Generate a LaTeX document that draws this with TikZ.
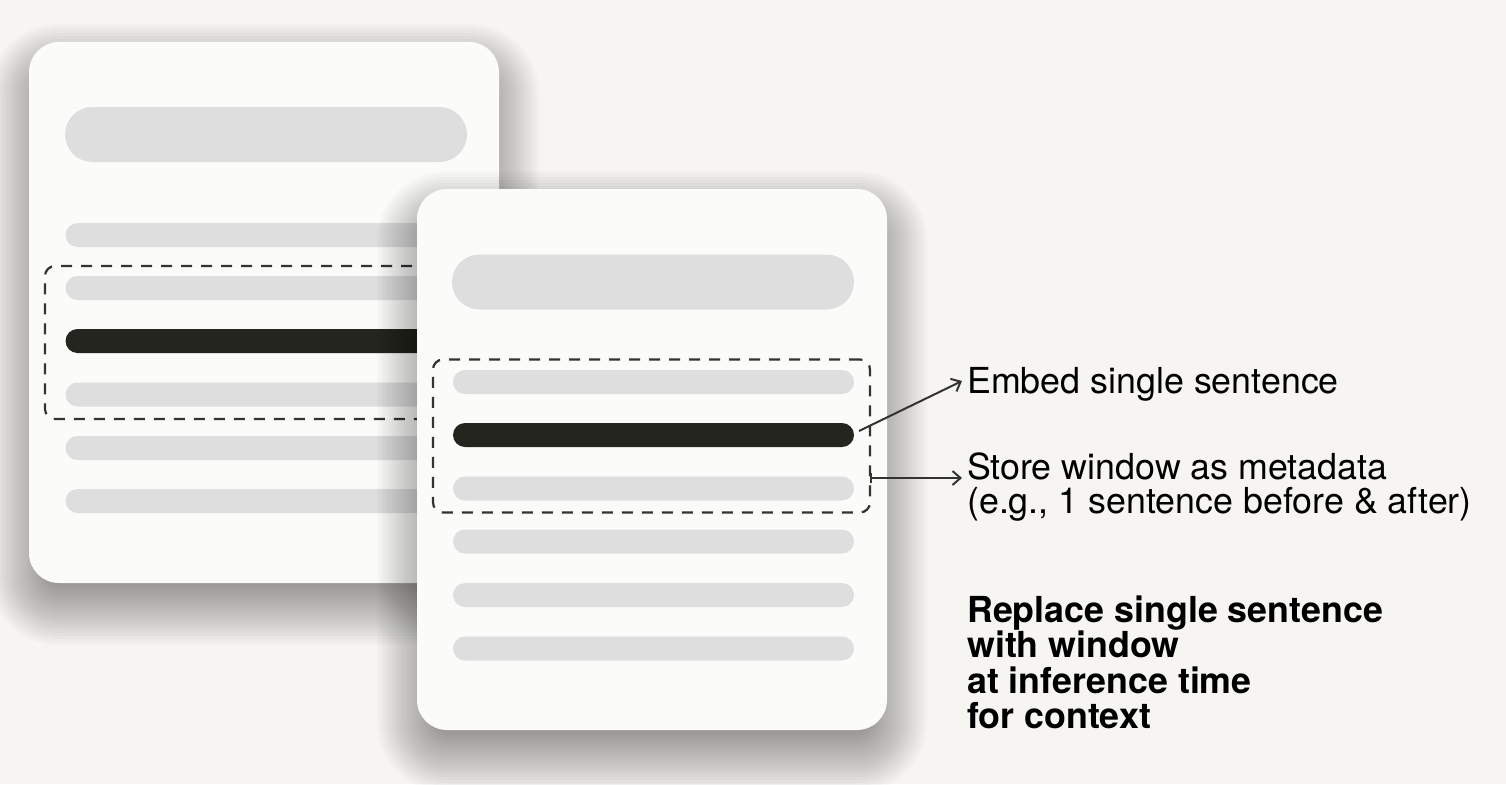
\documentclass[tikz,border=0pt]{standalone}
\usepackage{fontspec}
\setmainfont{TeX Gyre Heros}
\usetikzlibrary{arrows.meta,calc}
\definecolor{bg}{HTML}{F6F5F2}
\definecolor{cardfill}{HTML}{FBFBF9}
\definecolor{pill}{HTML}{DEDEDE}
\definecolor{ink}{HTML}{25251F}
\definecolor{wire}{HTML}{333333}
% soft drop shadow under a 470 x 541 card centred at (#1,#2), built from stacked translucent layers
\newcommand\cardshadow[2]{%
  \foreach \g in {40,37,...,-32}{%
    \pgfmathsetmacro\rr{max(30+\g,2)}%
    \fill[black, fill opacity=0.019, rounded corners=\rr pt]
      (#1-235-\g, #2-270.5-\g+22) rectangle (#1+235+\g, #2+270.5+\g+22);
  }%
}
\begin{document}
\begin{tikzpicture}[x=1pt,y=-1pt,
  card/.style={rectangle, rounded corners=30pt, fill=cardfill, minimum width=470pt,
    minimum height=541pt, inner sep=0pt, outer sep=0pt},
  titlebar/.style={rectangle, rounded corners=27.5pt, fill=pill, minimum width=402pt,
    minimum height=55pt, inner sep=0pt, outer sep=0pt},
  textline/.style={rectangle, rounded corners=12pt, fill=pill, minimum width=401pt,
    minimum height=24pt, inner sep=0pt, outer sep=0pt},
  keyline/.style={textline, fill=ink},
  window/.style={rectangle, rounded corners=10pt, draw=wire, line width=2.2pt,
    dash pattern=on 11pt off 9pt, minimum width=437pt, minimum height=153pt,
    inner sep=0pt, outer sep=0pt},
  pointer/.style={draw=wire, line width=2pt, -{Straight Barb[length=8pt,width=14pt]}},
  note/.style={anchor=base west, inner sep=0pt, text=black,
    font=\fontsize{35.8}{35}\selectfont},
  boldnote/.style={note, font=\fontsize{35.8}{35}\selectfont\bfseries},
]
% canvas
\fill[bg] (0,0) rectangle (1506,784);
\useasboundingbox (0,0) rectangle (1506,784);

% back document
\cardshadow{264}{312.5}
\node[card] (cardA) at (264,312.5) {};
\node[titlebar] (titleA) at (266,134.5) {};
\node[textline] (a1) at (266,235) {};
\node[textline] (a2) at (266,288) {};
\node[keyline]  (a3) at (266,341) {};
\node[textline] (a4) at (266,394.5) {};
\node[textline] (a5) at (266,448) {};
\node[textline] (a6) at (266,501) {};
\node[window] (winA) at (263.5,342.5) {};

% front document
\cardshadow{652}{459.5}
\node[card] (cardB) at (652,459.5) {};
\node[titlebar] (titleB) at (653,282) {};
\node[textline] (b1) at (653.5,382) {};
\node[keyline]  (b2) at (653.5,435) {};
\node[textline] (b3) at (653.5,488.5) {};
\node[textline] (b4) at (653.5,541.5) {};
\node[textline] (b5) at (653.5,595) {};
\node[textline] (b6) at (653.5,648.5) {};
\node[window] (winB) at (651.5,436) {};

% labels
\node[note] (emb) at (967,393) {Embed single sentence};
\node[note] (store1) at (967,479) {Store window as metadata};
\node[note] (store2) at (967,513) {(e.g., 1 sentence before \& after)};
\node[boldnote] (rep1) at (967,622) {Replace single sentence};
\node[boldnote] (rep2) at (967,657.5) {with window};
\node[boldnote] (rep3) at (967,693) {at inference time};
\node[boldnote] (rep4) at (967,728.5) {for context};

% connectors
\coordinate (embtip) at ($(emb.base west)+(-5,-12)$);
\coordinate (storetip) at ($(store1.base west)+(-5,-1)$);
\draw[pointer] ($(b2.east)+(5,-4)$) -- (embtip);
\draw[pointer, {Bar[width=10pt]}-{Straight Barb[length=8pt,width=14pt]}]
  (winB.east |- storetip) -- (storetip);
\end{tikzpicture}
\end{document}
